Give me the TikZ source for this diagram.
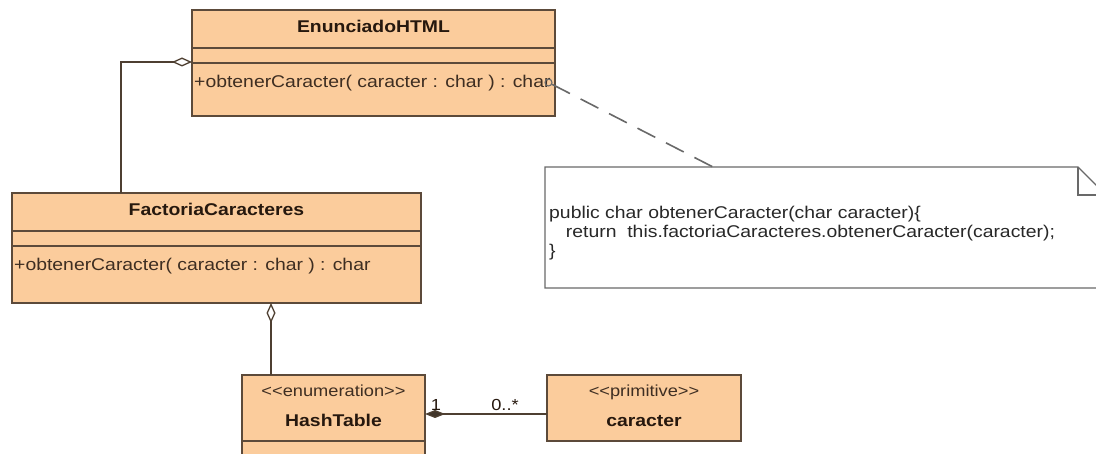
\documentclass[tikz,border=0pt]{standalone}
\usepackage{fontspec}
\newfontfamily\umlfont[FakeStretch=1.14]{Liberation Sans}
\usetikzlibrary{arrows.meta,calc}

\definecolor{classfill}{RGB}{251,204,156}
\definecolor{classline}{RGB}{92,74,58}
\definecolor{titleink}{RGB}{38,24,14}
\definecolor{textink}{RGB}{62,46,34}
\definecolor{noteline}{RGB}{105,105,105}
\definecolor{noteink}{RGB}{40,40,40}

\tikzset{
  classbox/.style={draw=classline, fill=classfill, line width=1.3pt,
    inner sep=0pt, outer sep=0pt, anchor=north west},
  sep/.style={draw=classline, line width=1.3pt},
  ctitle/.style={font=\umlfont\fontsize{17}{19}\selectfont\bfseries,
    text=titleink, inner sep=0pt, anchor=base},
  cstereo/.style={font=\umlfont\fontsize{16}{19}\selectfont,
    text=textink, inner sep=0pt, anchor=base},
  cop/.style={font=\umlfont\fontsize{17}{19}\selectfont,
    text=textink, inner sep=0pt, anchor=base west},
  ntext/.style={font=\umlfont\fontsize{17}{19}\selectfont,
    text=noteink, inner sep=0pt, anchor=base west},
  mult/.style={font=\umlfont\fontsize{16}{19}\selectfont,
    text=titleink, inner sep=0pt, anchor=base},
  assoc/.style={draw=classline!85!black, line width=1.3pt},
  aggr/.style={assoc, {Diamond[fill=white, length=20pt, width=9pt]}-},
  comp/.style={assoc, {Diamond[fill=classline!70!black, length=20pt, width=8pt]}-},
  notebox/.style={inner sep=0pt, outer sep=0pt, anchor=north west},
  noteedge/.style={draw=noteline, line width=1.2pt},
  notelink/.style={draw=noteline, line width=1.6pt, dash pattern=on 20pt off 12pt}
}

\begin{document}
\begin{tikzpicture}[x=1pt, y=-1pt]
\useasboundingbox (0,0) rectangle (1096,454);
\fill[white] (0,0) rectangle (1096,454);
\clip (0,0) rectangle (1096,454);

% ---- class EnunciadoHTML
\node[classbox, minimum width=363pt, minimum height=106pt] (enun) at (192,10) {};
\draw[sep] ($(enun.north west)+(0,38)$) -- ($(enun.north east)+(0,38)$);
\draw[sep] ($(enun.north west)+(0,53)$) -- ($(enun.north east)+(0,53)$);
\node[ctitle] (enunT) at (373.5,33) {EnunciadoHTML};
\node[cop] (enunM) at (194,88) {+obtenerCaracter( caracter : char ) : char};

% ---- class FactoriaCaracteres
\node[classbox, minimum width=409pt, minimum height=110pt] (fact) at (12,193) {};
\draw[sep] ($(fact.north west)+(0,38)$) -- ($(fact.north east)+(0,38)$);
\draw[sep] ($(fact.north west)+(0,53)$) -- ($(fact.north east)+(0,53)$);
\node[ctitle] (factT) at (216.5,216) {FactoriaCaracteres};
\node[cop] (factM) at (14,271) {+obtenerCaracter( caracter : char ) : char};

% ---- enumeration HashTable
\node[classbox, minimum width=183pt, minimum height=110pt] (hash) at (242,375) {};
\draw[sep] ($(hash.north west)+(0,66)$) -- ($(hash.north east)+(0,66)$);
\node[cstereo] (hashS) at (333.5,397) {<<enumeration>>};
\node[ctitle] (hashT) at (333.5,427) {HashTable};

% ---- primitive caracter
\node[classbox, minimum width=194pt, minimum height=66pt] (carac) at (547,375) {};
\node[cstereo] (caracS) at (644,397) {<<primitive>>};
\node[ctitle] (caracT) at (644,427) {caracter};

% ---- note with folded corner
\node[notebox, minimum width=561pt, minimum height=121pt] (note) at (545,167) {};
\draw[noteedge, fill=white] (note.north west) -- ($(note.north east)+(-28,0)$)
  -- ($(note.north east)+(0,28)$) -- (note.south east) -- (note.south west) -- cycle;
\draw[noteedge] ($(note.north east)+(-28,0)$) -- ($(note.north east)+(-28,28)$)
  -- ($(note.north east)+(0,28)$);
\node[ntext] (n1) at (549,219) {public char obtenerCaracter(char caracter)\{};
\node[ntext] (n2) at (555,238) {\ \ return\ \ this.factoriaCaracteres.obtenerCaracter(caracter);};
\node[ntext] (n3) at (549,257) {\}};

% ---- note link
\node[circle, draw=noteline, line width=1.1pt, minimum size=7pt, inner sep=0pt] (pin) at (548.5,82.5) {};
\coordinate (notetop) at ($(note.north west)+(168,0)$);
\draw[notelink] (pin) -- (notetop);

% ---- associations
\coordinate (aggx) at (121,62);
\draw[aggr] (enun.west |- aggx) -| (fact.north -| aggx);
\coordinate (aggy) at (271,0);
\draw[aggr] (fact.south -| aggy) -- (hash.north -| aggy);
\coordinate (compy) at (0,414);
\draw[comp] (hash.east |- compy) -- (carac.west |- compy);
\node[mult] (m1) at (436,411) {1};
\node[mult] (m2) at (505,410) {0..*};
\end{tikzpicture}
\end{document}
